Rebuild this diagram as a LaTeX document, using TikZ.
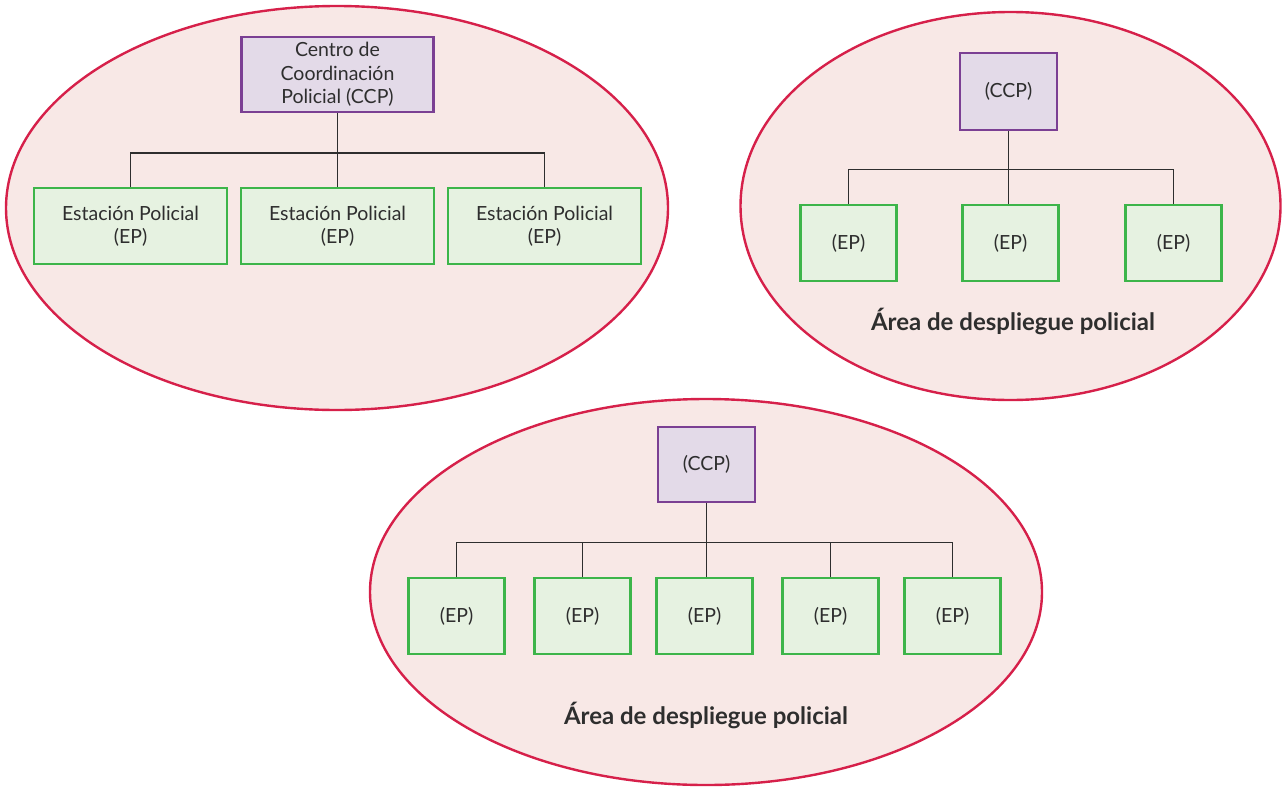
\documentclass[tikz,border=0pt]{standalone}
\usepackage{fontspec}
\setmainfont{Lato}
\usetikzlibrary{shapes.geometric}
\definecolor{areafill}{HTML}{F8E8E6}
\definecolor{arealine}{HTML}{D6204A}
\definecolor{ccpfill}{HTML}{E3DAE8}
\definecolor{ccpline}{HTML}{7B3F93}
\definecolor{epfill}{HTML}{E6F2E1}
\definecolor{epline}{HTML}{3DB54A}
\definecolor{txt}{HTML}{2E2E2E}
\begin{document}
\begin{tikzpicture}[x=1pt,y=-1pt,
  area/.style={ellipse, draw=arealine, fill=areafill, line width=2.4pt, inner sep=0pt},
  ccpbox/.style={rectangle, draw=ccpline, fill=ccpfill, line width=2.8pt, inner sep=0pt,
     text=txt, align=center, font=\fontsize{19.5}{23.5}\selectfont},
  epbox/.style={rectangle, draw=epline, fill=epfill, line width=2.8pt, inner sep=0pt,
     text=txt, align=center, font=\fontsize{19.5}{23}\selectfont},
  conn/.style={draw=txt, line width=1.5pt},
  arealabel/.style={text=txt, font=\fontsize{24}{28}\selectfont\bfseries}
]
\useasboundingbox (0,0) rectangle (1284,787);

% ---------- Area 1 ----------
\node[area, minimum width=662pt, minimum height=404pt] (a1) at (337,208) {};
\node[ccpbox, minimum width=192pt, minimum height=75pt] (c1) at (337.5,74.5) {Centro de\\Coordinación\\Policial (CCP)};
\node[epbox, minimum width=193pt, minimum height=76pt] (e11) at (130.5,226) {Estación Policial\\(EP)};
\node[epbox, minimum width=193pt, minimum height=76pt] (e12) at (337.5,226) {Estación Policial\\(EP)};
\node[epbox, minimum width=193pt, minimum height=76pt] (e13) at (544.5,226) {Estación Policial\\(EP)};
\coordinate (b1) at (337.5,153);
\draw[conn] (c1.south) -- (e12.north);
\draw[conn] (e11.north) |- (b1) -| (e13.north);

% ---------- Area 2 ----------
\node[area, minimum width=540pt, minimum height=388pt] (a2) at (1010.5,206) {};
\node[ccpbox, minimum width=97pt, minimum height=77pt] (c2) at (1008.5,91.5) {(CCP)};
\node[epbox, minimum width=96pt, minimum height=76pt] (e21) at (848.5,243) {(EP)};
\node[epbox, minimum width=96pt, minimum height=76pt] (e22) at (1010.5,243) {(EP)};
\node[epbox, minimum width=96pt, minimum height=76pt] (e23) at (1173.5,243) {(EP)};
\coordinate (b2) at (1008.5,169.5);
\draw[conn] (c2.south) -- (c2.south |- e22.north);
\draw[conn] (e21.north) |- (b2) -| (e23.north);
\node[arealabel] (l2) at (1013,321) {Área de despliegue policial};

% ---------- Area 3 ----------
\node[area, minimum width=672pt, minimum height=386pt] (a3) at (706,592) {};
\node[ccpbox, minimum width=97pt, minimum height=75pt] (c3) at (706.5,464.5) {(CCP)};
\node[epbox, minimum width=96pt, minimum height=76pt] (e31) at (456.5,616) {(EP)};
\node[epbox, minimum width=96pt, minimum height=76pt] (e32) at (582.5,616) {(EP)};
\node[epbox, minimum width=96pt, minimum height=76pt] (e33) at (704.5,616) {(EP)};
\node[epbox, minimum width=96pt, minimum height=76pt] (e34) at (830.5,616) {(EP)};
\node[epbox, minimum width=96pt, minimum height=76pt] (e35) at (952.5,616) {(EP)};
\coordinate (b3) at (706.5,542.5);
\draw[conn] (c3.south) -- (c3.south |- e33.north);
\draw[conn] (e31.north) |- (b3) -| (e35.north);
\draw[conn] (e32.north) -- (e32.north |- b3);
\draw[conn] (e34.north) -- (e34.north |- b3);
\node[arealabel] (l3) at (706,715) {Área de despliegue policial};
\end{tikzpicture}
\end{document}
